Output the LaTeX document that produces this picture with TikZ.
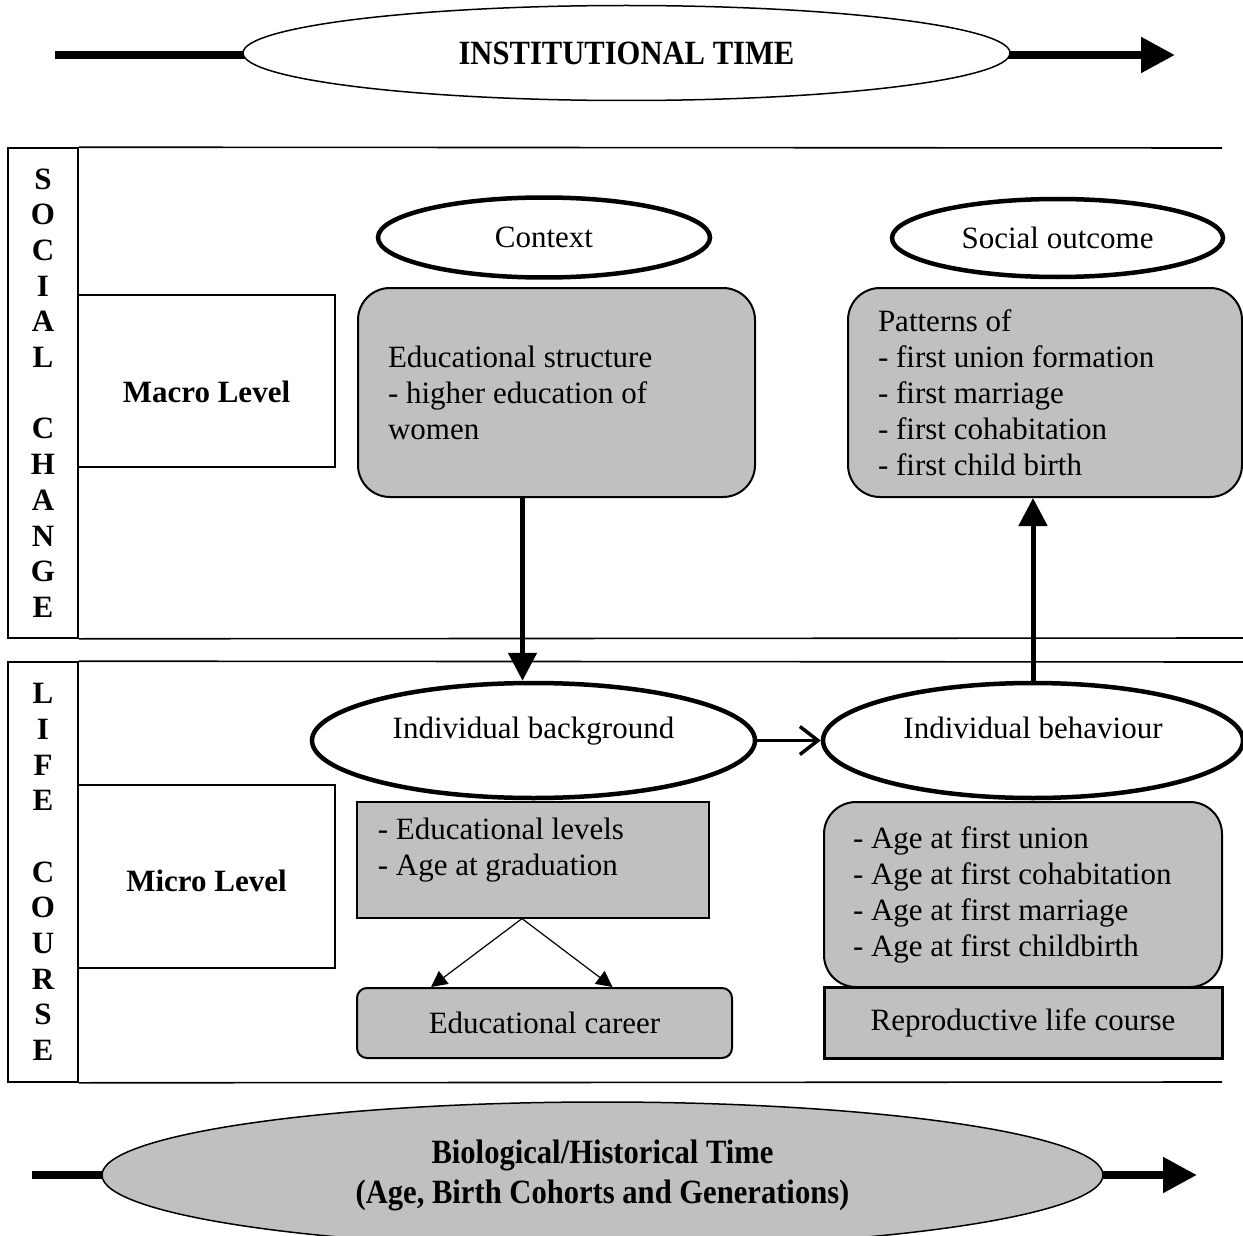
\documentclass[tikz,border=0pt]{standalone}
\usepackage{fontspec}
\setmainfont{Liberation Serif}
\newfontfamily\condfont[FakeStretch=0.9]{Liberation Serif}
\usetikzlibrary{arrows.meta, positioning, shapes.geometric}
\definecolor{boxgray}{HTML}{C0C0C0}

\tikzset{
  band/.style={line width=0.8pt},
  sidebar/.style={draw, line width=0.8pt, minimum width=35pt, inner sep=0pt, align=center,
    font=\bfseries\fontsize{15.5}{17.85}\selectfont},
  levelbox/.style={draw, line width=0.8pt, minimum width=128.5pt, inner sep=0pt, text depth=3pt,
    font=\bfseries\fontsize{15.5}{18}\selectfont},
  oval/.style={ellipse, draw, line width=2.25pt, fill=white, inner sep=0pt},
  timeoval/.style={ellipse, draw, line width=0.75pt, inner sep=0pt, align=center,
    font=\condfont\bfseries\fontsize{17}{20}\selectfont},
  graybox/.style={draw, fill=boxgray, line width=1pt, inner sep=0pt},
  listbox/.style={graybox, rounded corners=16pt, align=flush left, inner xsep=15pt},
  txt/.style={inner sep=0pt, align=left},
  timeline/.style={line width=4pt, -{Triangle[length=17pt,width=17pt]}},
  bigarrow/.style={line width=2.5pt, -{Triangle[length=14pt,width=14pt]}},
  openarrow/.style={line width=1.75pt, -{Straight Barb[length=9pt,width=14pt]}},
  thinarrow/.style={line width=0.6pt, -{Triangle[length=8pt,width=8pt]}}
}

\begin{document}
\begin{tikzpicture}[x=0.5pt, y=-0.5pt, font=\fontsize{15.5}{18}\selectfont]
\useasboundingbox (0,0) rectangle (1243,1236);

% institutional time
\coordinate (itA) at (55,55);
\coordinate (itB) at (1175,55);
\draw[timeline] (itA) -- (itB);
\node[timeoval, fill=white, minimum width=383.5pt, minimum height=47.5pt] (it) at (626.5,53) {INSTITUTIONAL TIME};

% social change band
\node[sidebar, minimum height=245pt] (sc) at (43,393)
  {S\\O\\C\\I\\A\\L\\\mbox{}\\C\\H\\A\\N\\G\\E};
\coordinate (scTR) at (1222,148);
\coordinate (scBR) at (1243,638);
\draw[band] (sc.north east) -- (scTR);
\draw[band] (sc.south east) -- (scBR);
\node[levelbox, minimum height=86pt, text height=24pt] (macro) at (206.5,381) {Macro Level};

% life course band
\node[sidebar, minimum height=210pt] (lc) at (43,872)
  {L\\I\\F\\E\\\mbox{}\\C\\O\\U\\R\\S\\E};
\coordinate (lcTR) at (1243,662);
\coordinate (lcBR) at (1222,1082);
\draw[band] (lc.north east) -- (lcTR);
\draw[band] (lc.south east) -- (lcBR);
\node[levelbox, minimum height=91.5pt, text height=18pt] (micro) at (206.5,876.5) {Micro Level};

% macro level
\node[oval, minimum width=166pt, minimum height=40pt] (ctx) at (544,237.5) {Context};
\node[oval, minimum width=165.5pt, minimum height=39pt] (so) at (1057.5,238) {Social outcome};
\node[listbox, minimum width=198.5pt, minimum height=104.5pt, text width=168.5pt] (es) at (556.5,392.5)
  {Educational structure\\- higher education of\\women};
\node[listbox, minimum width=197pt, minimum height=104.5pt, text width=167pt] (po) at (1045,392.5)
  {Patterns of\\- first union formation\\- first marriage\\- first cohabitation\\- first child birth};

% micro level
\node[oval, minimum width=221.5pt, minimum height=57.5pt, text height=10pt, text depth=12pt] (ib) at (533.5,740.5) {Individual background};
\node[oval, minimum width=210pt, minimum height=57.5pt, text height=10pt, text depth=12pt] (ibh) at (1033,740.5) {Individual behaviour};
\node[graybox, line width=0.6pt, minimum width=176pt, minimum height=58pt] (edl) at (533,860) {};
\node[txt, below right=8pt and 10.5pt of edl.north west] (edlt) {- Educational levels\\- Age at graduation};
\node[graybox, rounded corners=5pt, minimum width=187.5pt, minimum height=35pt] (edc) at (544.5,1023) {Educational career};
\node[listbox, inner xsep=14.5pt, minimum width=199pt, minimum height=92.5pt, text width=170pt] (age) at (1023,894.5)
  {- Age at first union\\- Age at first cohabitation\\- Age at first marriage\\- Age at first childbirth};
\node[graybox, line width=1.5pt, minimum width=199pt, minimum height=35.5pt] (rlc) at (1023,1022.5) {Reproductive life course};

% connectors
\coordinate (dn) at ([xshift=-5.5pt]ib.north);
\draw[bigarrow] (es.south -| dn) -- (dn);
\draw[bigarrow] (ibh.north) -- (ibh.north |- po.south);
\draw[openarrow] (ib.east) -- (ibh.west);
\coordinate (split) at ([xshift=-5.5pt]edl.south);
\draw[thinarrow] (split) -- ([xshift=-56.75pt]edc.north);
\draw[thinarrow] (split) -- ([xshift=34pt]edc.north);

% biological / historical time
\coordinate (btA) at (32,1175);
\coordinate (btB) at (1197,1175);
\draw[timeline] (btA) -- (btB);
\node[timeoval, fill=boxgray, minimum width=500.5pt, minimum height=73pt] (bt) at (602.5,1175)
  {Biological/Historical Time\\(Age, Birth Cohorts and Generations)};

\end{tikzpicture}
\end{document}
